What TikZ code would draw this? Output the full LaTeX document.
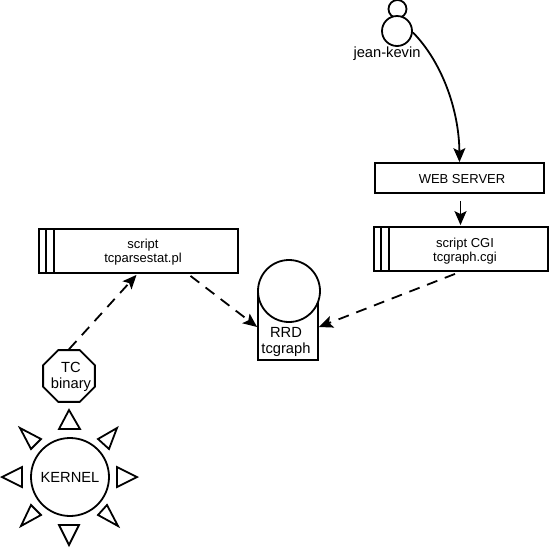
\documentclass[tikz,border=0pt]{standalone}
\usepackage{fontspec}
\setmainfont{Liberation Sans}
\usetikzlibrary{arrows.meta,shapes.geometric}
\tikzset{
  x=1pt,y=-1pt,
  ln/.style={line width=1.8pt,black},
  boxn/.style={draw,ln,rectangle,inner sep=0pt,fill=white},
  circn/.style={draw,ln,circle,inner sep=0pt,fill=white},
  lbl/.style={inner sep=0pt,align=center,font=\fontsize{13}{14}\selectfont},
  biglbl/.style={inner sep=0pt,align=center,font=\fontsize{14.7}{16.5}\selectfont},
  tip/.style={-{Stealth[length=14pt,width=12pt,inset=3pt]}},
  solidarrow/.style={ln,tip},
  dasharrow/.style={ln,tip,dash pattern=on 11pt off 8pt},
  tri/.style={ln,line join=miter},
  bar/.style={line width=1.5pt}
}
\begin{document}
\begin{tikzpicture}
\useasboundingbox (0,0) rectangle (549,547);
% user
\node[circn,minimum size=18pt] (head) at (397.5,9) {};
\node[circn,minimum size=30pt] (user) at (397,31) {};
\node[biglbl] (jk) at (387,54) {jean-kevin};
% web server
\node[boxn,minimum width=169pt,minimum height=30pt] (web) at (459.5,178) {};
\node[lbl] (webl) at (462,179) {WEB SERVER};
% CGI
\node[boxn,minimum width=174pt,minimum height=44pt] (cgi) at (461,249) {};
\draw[bar] (381,227) -- (381,271);
\draw[bar] (389,227) -- (389,271);
\node[lbl] (cgil) at (465,251) {script CGI\\tcgraph.cgi};
% script
\node[boxn,minimum width=199pt,minimum height=44pt] (scr) at (138.5,251) {};
\draw[bar] (46,229) -- (46,273);
\draw[bar] (54,229) -- (54,273);
\node[lbl] (scrl) at (143,252) {script\\tcparsestat.pl};
% RRD
\node[boxn,minimum width=60pt,minimum height=70pt] (rrd) at (288,325) {};
\node[circn,minimum size=62pt] (rrdc) at (289,291) {};
\node[biglbl] (rrdl) at (286,342) {RRD\\tcgraph};
% TC
\node[draw,ln,regular polygon,regular polygon sides=8,minimum size=56pt,inner sep=0pt,fill=white] (tc) at (69,376) {};
\node[biglbl] (tcl) at (71,377) {TC\\binary};
% kernel
\node[circn,minimum size=78pt] (kern) at (70,477) {};
\node[biglbl] (kernl) at (70,477) {KERNEL};
\draw[tri] (69,410) -- (59,429) -- (80,429) -- cycle;
\draw[tri] (137,477) -- (117,467) -- (117,487) -- cycle;
\draw[tri] (2,477) -- (22,467) -- (22,487) -- cycle;
\draw[tri] (69,545) -- (59,525) -- (79,525) -- cycle;
\draw[tri] (117,428) -- (98,439) -- (109,449) -- cycle;
\draw[tri] (20,428) -- (41,439) -- (31,449) -- cycle;
\draw[tri] (118,526) -- (107,505) -- (98,515) -- cycle;
\draw[tri] (21,526) -- (31,505) -- (41,515) -- cycle;
% connectors
\draw[solidarrow] (user.-5) .. controls (442,62) and (459,110) .. (web.north);
\draw[solidarrow] ([xshift=1pt,yshift=-7pt]web.south) -- ([xshift=-0.5pt,yshift=1pt]cgi.north);
\draw[dasharrow] (tc.north) -- ([xshift=-2pt,yshift=-1pt]scr.south);
\draw[dasharrow] ([xshift=52pt,yshift=-2pt]scr.south) -- ([yshift=-2pt]rrd.west);
\draw[dasharrow] ([xshift=-6pt,yshift=-2pt]cgi.south) -- ([yshift=-2pt]rrd.east);
\end{tikzpicture}
\end{document}
